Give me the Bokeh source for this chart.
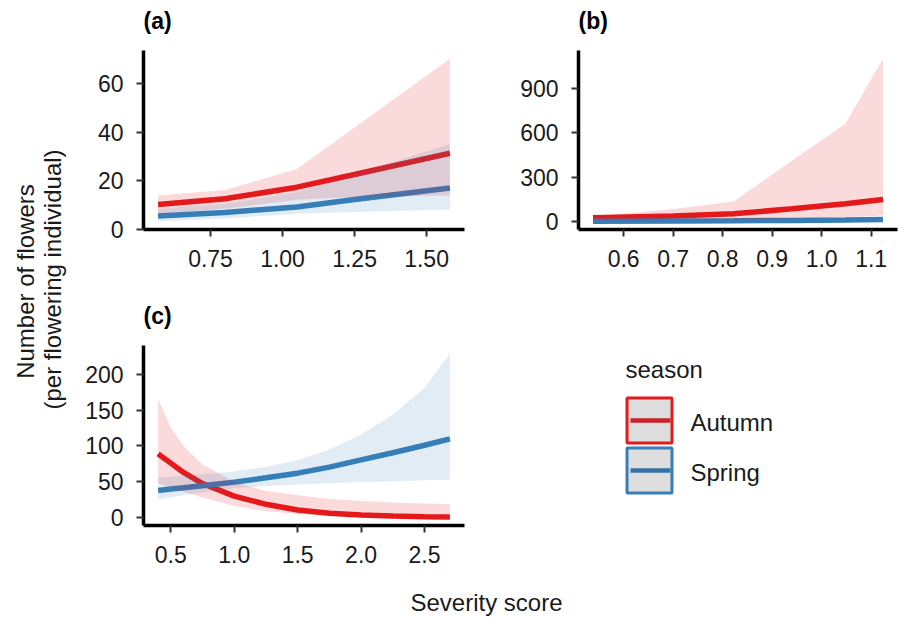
import math
from bokeh.plotting import figure
from bokeh.models import Range1d, FixedTicker
from bokeh.layouts import row, column
from bokeh.core.properties import value
from bokeh.embed import file_html
from bokeh.resources import INLINE

# ---------------- data ----------------
seasons = ["Autumn", "Spring"]
line_colors = ["#E41A1C", "#377EB8"]
key_line_colors = ["#C9222B", "#3571A3"]

# panel (a)
x_a = [0.568, 0.80, 1.05, 1.25, 1.581]
a_aut_fit = [10.3, 12.6, 17.4, 22.6, 31.4]
a_aut_lo = [6.4, 8.5, 12.2, 13.3, 14.0]
a_aut_hi = [14.0, 16.2, 24.9, 42.0, 70.4]
a_spr_fit = [5.5, 7.0, 9.2, 12.3, 17.1]
a_spr_lo = [3.3, 4.5, 6.4, 7.2, 8.2]
a_spr_hi = [8.5, 10.5, 15.3, 22.8, 35.2]
a_xticks = [0.75, 1.00, 1.25, 1.50]
a_xlabels = ["0.75", "1.00", "1.25", "1.50"]
a_yticks = [0, 20, 40, 60]
a_ylabels = ["0", "20", "40", "60"]

# panel (b)
x_b = [0.538, 0.70, 0.822, 0.94, 1.048, 1.124]
b_aut_fit = [25, 38, 52, 86, 120, 149]
b_aut_lo = [7, 11, 14, 21, 29, 41]
b_aut_hi = [34, 85, 135, 410, 661, 1101]
b_spr_fit = [2, 3.5, 5, 7.5, 10, 14]
b_spr_lo = [1, 1.8, 2.5, 3.7, 5, 7]
b_spr_hi = [4, 6.5, 9, 13, 18, 26]
b_xticks = [0.6, 0.7, 0.8, 0.9, 1.0, 1.1]
b_xlabels = ["0.6", "0.7", "0.8", "0.9", "1.0", "1.1"]
b_yticks = [0, 300, 600, 900]
b_ylabels = ["0", "300", "600", "900"]

# panel (c)
x_c = [0.4, 0.5, 0.6, 0.75, 1.0, 1.25, 1.5, 1.75, 2.0, 2.25, 2.5, 2.7]
c_aut_fit = [89, 76, 63, 47.5, 30, 18.5, 10.5, 6, 3.5, 2, 1.2, 0.8]
c_aut_lo = [48, 42, 36, 28, 16, 9, 5, 3, 1.6, 0.9, 0.5, 0.3]
c_aut_hi = [165, 126, 100, 74, 50, 37, 31, 26, 23, 21, 19.5, 18.5]
c_spr_fit = [37.9, 39.8, 41.6, 44.5, 49.5, 55.5, 62, 70.5, 80.5, 90.5, 101, 110]
c_spr_lo = [25.7, 28.5, 31, 35, 41, 44, 46, 48, 49.5, 50.8, 52, 52.8]
c_spr_hi = [56, 57, 58.5, 60.5, 64.5, 71, 80.5, 95, 116, 144, 181, 229]
c_xticks = [0.5, 1.0, 1.5, 2.0, 2.5]
c_xlabels = ["0.5", "1.0", "1.5", "2.0", "2.5"]
c_yticks = [0, 50, 100, 150, 200]
c_ylabels = ["0", "50", "100", "150", "200"]

panel_tags = ["(a)", "(b)", "(c)"]
y_title = ["Number of flowers", "(per flowering individual)"]
x_title = "Severity score"
legend_title = "season"

# ---------------- style ----------------
FONT = "Liberation Sans"
TXT = "#1A1A1A"
TICK_SIZE = "23px"
TITLE_SIZE = "24px"
TAG_SIZE = "23px"


def expand(lo, hi, f=0.05):
    s = hi - lo
    return lo - f * s, hi + f * s


def panel(w, h, xr, yr, mb_left, mb_right, mb_bottom, xt, xl, yt, yl):
    p = figure(width=w, height=h, x_range=Range1d(*xr), y_range=Range1d(*yr),
               output_backend="svg", toolbar_location=None, title=None,
               min_border_left=mb_left, min_border_right=mb_right,
               min_border_top=0, min_border_bottom=mb_bottom)
    p.frame_align = False
    p.outline_line_color = None
    p.grid.visible = False
    p.background_fill_color = "white"
    p.border_fill_color = "white"
    p.xaxis.ticker = FixedTicker(ticks=xt)
    p.xaxis.major_label_overrides = dict(zip(xt, xl))
    p.yaxis.ticker = FixedTicker(ticks=yt)
    p.yaxis.major_label_overrides = dict(zip(yt, yl))
    for ax in (p.xaxis, p.yaxis):
        ax.axis_line_color = "black"
        ax.axis_line_width = 3.5
        ax.major_tick_line_color = "#333333"
        ax.major_tick_line_width = 2
        ax.major_tick_out = 7
        ax.major_tick_in = 0
        ax.minor_tick_line_color = None
        ax.major_label_standoff = 13
        ax.major_label_text_font = FONT
        ax.major_label_text_font_size = TICK_SIZE
        ax.major_label_text_color = TXT
    return p


def draw(p, x, aut, spr):
    # lines first, ribbons on top (as in the reference)
    for (fit, lo, hi), col in zip([aut, spr], line_colors):
        p.line(x, fit, line_color=col, line_width=5.5)
    for (fit, lo, hi), col, al in zip([aut, spr], line_colors, [0.16, 0.15]):
        p.varea(x=x, y1=lo, y2=hi, fill_color=col, fill_alpha=al)


def deco(w, h):
    p = figure(width=w, height=h, x_range=Range1d(0, w), y_range=Range1d(0, h),
               x_axis_type=None, y_axis_type=None, output_backend="svg",
               toolbar_location=None, title=None, min_border=0,
               min_border_left=0, min_border_right=0,
               min_border_top=0, min_border_bottom=0)
    p.frame_align = False
    p.outline_line_color = None
    p.grid.visible = False
    return p


# ---------------- panels ----------------
ya = expand(min(a_spr_lo + a_aut_lo), max(a_aut_hi + a_spr_hi))
pa = panel(408, 240, expand(min(x_a), max(x_a)), ya, 71, 16, 61,
           a_xticks, a_xlabels, a_yticks, a_ylabels)
draw(pa, x_a, (a_aut_fit, a_aut_lo, a_aut_hi), (a_spr_fit, a_spr_lo, a_spr_hi))

yb = expand(min(b_spr_lo + b_aut_lo), max(b_aut_hi + b_spr_hi))
pb = panel(419, 240, expand(min(x_b), max(x_b)), yb, 98, 2, 61,
           b_xticks, b_xlabels, b_yticks, b_ylabels)
draw(pb, x_b, (b_aut_fit, b_aut_lo, b_aut_hi), (b_spr_fit, b_spr_lo, b_spr_hi))

yc = expand(min(c_spr_lo + c_aut_lo), max(c_aut_hi + c_spr_hi))
pc = panel(408, 225, expand(min(x_c), max(x_c)), yc, 71, 16, 45,
           c_xticks, c_xlabels, c_yticks, c_ylabels)
draw(pc, x_c, (c_aut_fit, c_aut_lo, c_aut_hi), (c_spr_fit, c_spr_lo, c_spr_hi))

# ---------------- tags ----------------
tag1 = deco(827, 50)
tag1.text(x=[71, 506], y=[30, 30], text=panel_tags[:2], text_font=value(FONT),
          text_font_size=TAG_SIZE, text_font_style="bold", text_color="black",
          text_align="left", text_baseline="middle")
tag2 = deco(827, 55)
tag2.text(x=[71], y=[30], text=panel_tags[2:], text_font=value(FONT),
          text_font_size=TAG_SIZE, text_font_style="bold", text_color="black",
          text_align="left", text_baseline="middle")

# ---------------- legend ----------------
leg = deco(419, 225)
leg.text(x=[145], y=[201], text=[legend_title], text_font=value(FONT),
         text_font_size=TITLE_SIZE, text_color=TXT, text_align="left",
         text_baseline="middle")
key_y = [150, 100]
leg.rect(x=[169, 169], y=key_y, width=45, height=45, width_units="screen",
         height_units="screen", fill_color="#DEDEDE", line_color=line_colors,
         line_width=3)
leg.segment(x0=[150, 150], y0=key_y, x1=[190, 190], y1=key_y,
            line_color=key_line_colors, line_width=4.5)
leg.text(x=[210, 210], y=[148, 98.5], text=seasons, text_font=value(FONT),
         text_font_size=TITLE_SIZE, text_color=TXT, text_align="left",
         text_baseline="middle")

# ---------------- axis titles ----------------
yt = deco(72, 570)
yt.text(x=[25, 52], y=[289, 291], text=y_title, angle=math.pi / 2,
        text_font=value(FONT), text_font_size=TITLE_SIZE, text_color=TXT,
        text_align="center", text_baseline="middle")
xt = deco(899, 46)
xt.text(x=[486], y=[14], text=[x_title], text_font=value(FONT),
        text_font_size=TITLE_SIZE, text_color=TXT, text_align="center",
        text_baseline="middle")

layout = column(
    row(yt, column(tag1, row(pa, pb), tag2, row(pc, leg))),
    xt,
)

open("out.html", "w").write(file_html(layout, INLINE))
